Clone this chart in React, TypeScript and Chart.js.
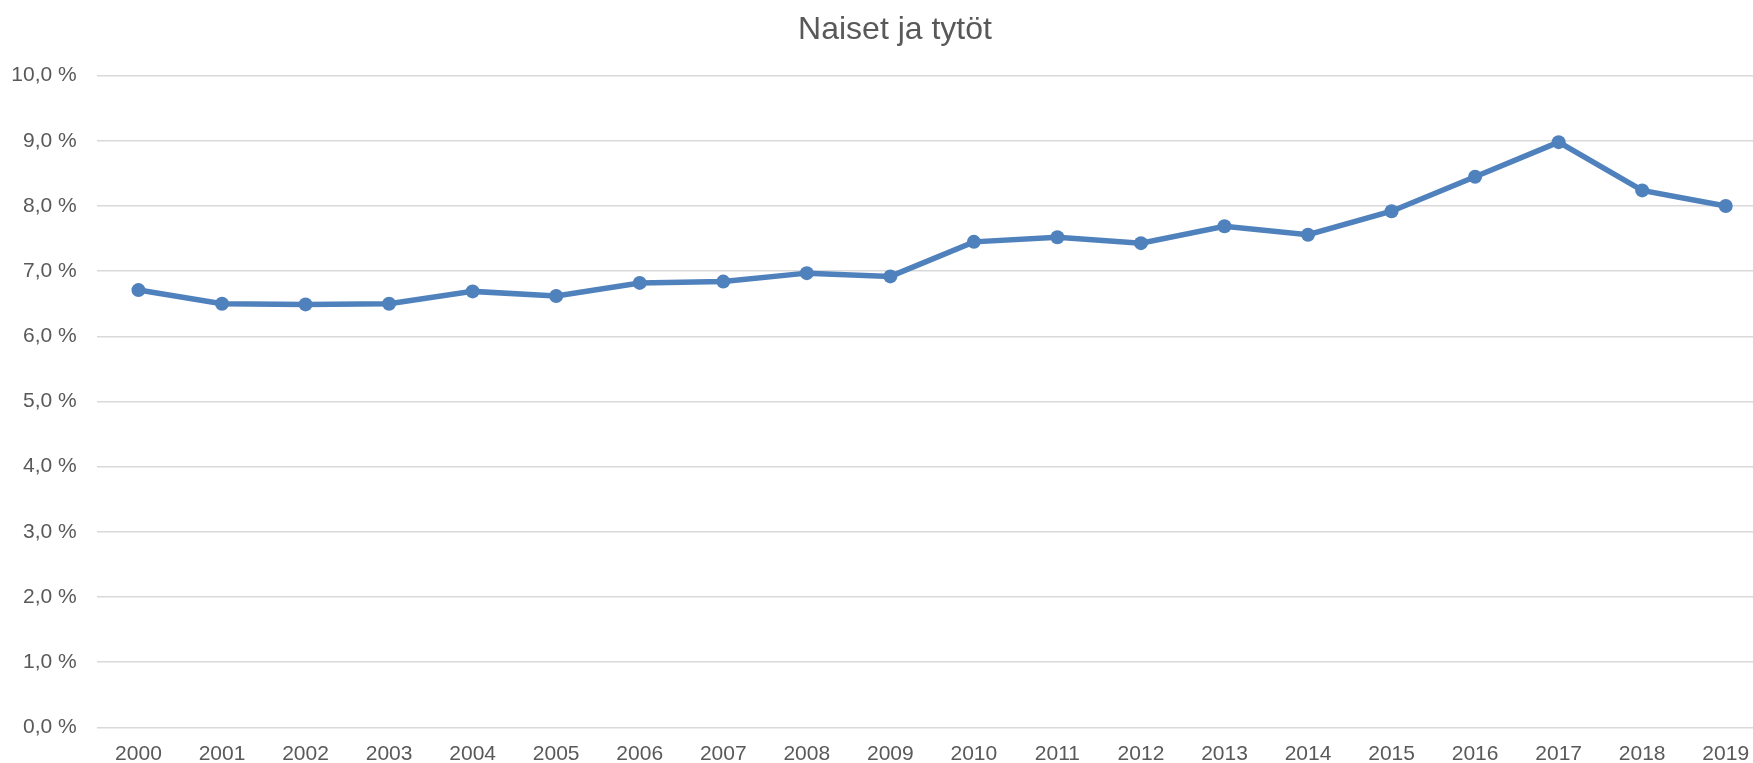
import React, { useEffect, useRef } from "react";
import { Chart, registerables } from "chart.js";

Chart.register(...registerables);

const years = ["2000","2001","2002","2003","2004","2005","2006","2007","2008","2009","2010","2011","2012","2013","2014","2015","2016","2017","2018","2019"];
const values = [6.71, 6.50, 6.49, 6.50, 6.69, 6.62, 6.82, 6.84, 6.97, 6.92, 7.45, 7.52, 7.43, 7.69, 7.56, 7.92, 8.45, 8.98, 8.24, 8.00];
const yMin = 0;
const yMax = 10;
const yStep = 1;
const titleText = "Naiset ja tytöt";

const W = 1790;
const H = 763;

export default function App() {
  const ref = useRef<HTMLCanvasElement | null>(null);

  useEffect(() => {
    if (!ref.current) return;
    const font = "'Liberation Sans', Arial, sans-serif";
    const chart = new Chart(ref.current, {
      type: "line",
      data: {
        labels: years,
        datasets: [
          {
            data: values,
            yAxisID: "y",
            borderColor: "#4f81bd",
            backgroundColor: "#4f81bd",
            borderWidth: 5.5,
            pointRadius: 7,
            pointBorderWidth: 0,
            pointBackgroundColor: "#4f81bd",
            tension: 0,
            fill: false,
          },
        ],
      },
      options: {
        responsive: false,
        animation: false,
        layout: { padding: 0 },
        plugins: {
          legend: { display: false },
          tooltip: { enabled: false },
          title: {
            display: true,
            text: titleText,
            color: "#595959",
            font: { family: font, size: 32, weight: "normal", lineHeight: 1.2 },
            padding: { top: 11, bottom: 26.3 },
          },
        },
        scales: {
          x: {
            type: "category",
            offset: true,
            grid: { display: false, drawTicks: false },
            border: { display: false },
            ticks: {
              color: "#595959",
              font: { family: font, size: 21 },
              padding: 14,
              maxRotation: 0,
              autoSkip: false,
            },
            afterFit: (scale: any) => {
              scale.height = 35.7;
            },
          },
          y: {
            position: "left",
            min: yMin,
            max: yMax,
            grid: { color: "#d9d9d9", lineWidth: 1.5, drawTicks: false },
            border: { display: false },
            ticks: {
              stepSize: yStep,
              color: "#595959",
              font: { family: font, size: 21 },
              padding: 20,
              callback: (v: any) => Number(v).toFixed(1).replace(".", ",") + " %",
            },
            afterFit: (scale: any) => {
              scale.width = 96.7;
            },
          },
          yRight: {
            position: "right",
            min: yMin,
            max: yMax,
            grid: { display: false, drawTicks: false },
            border: { display: false },
            ticks: { display: false },
            afterFit: (scale: any) => {
              scale.width = 22.5;
            },
          },
        },
      },
    });
    return () => chart.destroy();
  }, []);

  return (
    <div style={{ position: "fixed", left: 0, top: 0, width: 1753, height: H, overflow: "hidden", background: "#fff" }}>
      <canvas ref={ref} width={W} height={H} style={{ display: "block", width: W, height: H }} />
    </div>
  );
}
